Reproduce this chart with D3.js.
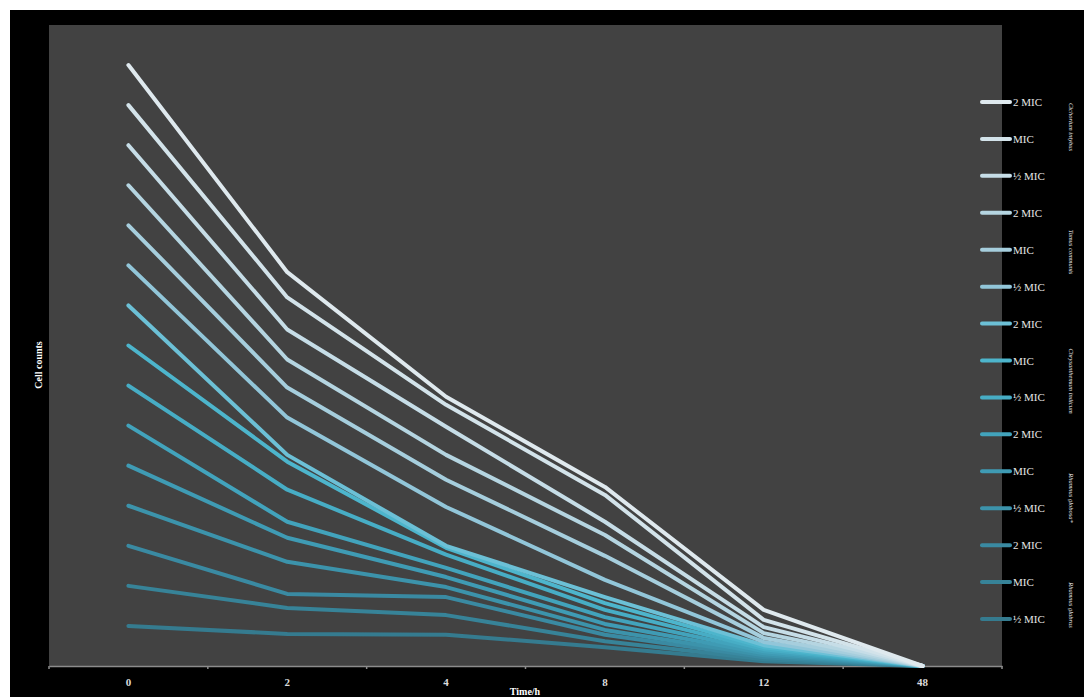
<!DOCTYPE html>
<html>
<head>
<meta charset="utf-8">
<script src="https://cdn.jsdelivr.net/npm/d3@7"></script>
<style>
html,body{margin:0;padding:0;background:#fff;}
svg{display:block;}
</style>
</head>
<body>
<svg id="chart" width="1084" height="697"></svg>
<script>
// ---- data ----
const categories = ["0", "2", "4", "8", "12", "48"];
const seriesNames = ["2 MIC","MIC","½ MIC","2 MIC","MIC","½ MIC","2 MIC","MIC","½ MIC","2 MIC","MIC","½ MIC","2 MIC","MIC","½ MIC"];
const groupLabels = ["Cichorium intybus","Tamus communis","Chrysanthemum indicum","Rhamnus globosa*","Rhamnus glabrus"];
const s01 = [15, 9.83, 6.72, 4.47, 1.40, 0];
const s02 = [14, 9.20, 6.52, 4.27, 1.15, 0];
const s03 = [13, 8.40, 5.97, 3.60, 0.97, 0];
const s04 = [12, 7.65, 5.27, 3.27, 0.82, 0];
const s05 = [11, 6.95, 4.65, 2.75, 0.70, 0];
const s06 = [10, 6.20, 3.97, 2.15, 0.60, 0];
const s07 = [9, 5.27, 3.00, 1.72, 0.52, 0];
const s08 = [8, 5.10, 2.95, 1.57, 0.47, 0];
const s09 = [7, 4.40, 2.78, 1.40, 0.42, 0];
const s10 = [6, 3.60, 2.45, 1.22, 0.37, 0];
const s11 = [5, 3.20, 2.22, 1.05, 0.32, 0];
const s12 = [4, 2.60, 1.97, 0.90, 0.27, 0];
const s13 = [3, 1.80, 1.72, 0.78, 0.22, 0];
const s14 = [2, 1.45, 1.27, 0.62, 0.17, 0];
const s15 = [1, 0.80, 0.78, 0.47, 0.12, 0];
const seriesValues = [s01,s02,s03,s04,s05,s06,s07,s08,s09,s10,s11,s12,s13,s14,s15];
const colors = ["#dfe9ee","#d3e3ea","#c6dde7","#b5d5e1","#a6cedd","#92c6d9","#6cc0d6","#4db5cc","#47adc5","#42a3bc","#3f9bb4","#3c93ab","#3a8aa2","#378398","#357b8f"];

// ---- layout ----
const svg = d3.select("#chart");
const plot = {left: 49, right: 1002, top: 25, bottom: 666};

svg.append("rect").attr("x",0).attr("y",0).attr("width",1084).attr("height",697).attr("fill","#ffffff");
svg.append("rect").attr("x",10).attr("y",10).attr("width",1074).attr("height",687).attr("fill","#000000");
svg.append("rect").attr("x",plot.left).attr("y",plot.top)
  .attr("width",plot.right-plot.left).attr("height",plot.bottom-plot.top).attr("fill","#424242");

const x = d3.scalePoint().domain(categories).range([plot.left, plot.right]).padding(0.5);
const y = d3.scaleLinear().domain([0, 16]).range([plot.bottom, plot.top]);

// x axis
const xAxis = d3.axisBottom(d3.scaleBand().domain(categories).range([plot.left, plot.right]))
  .tickSize(0).tickPadding(12);
const gx = svg.append("g").attr("transform",`translate(0,${plot.bottom})`).call(xAxis);
gx.select(".domain").attr("stroke","#8c8c8c").attr("stroke-width",1.6);
gx.selectAll(".tick text").attr("fill","#dcdcdc")
  .style("font-family","'Liberation Serif', serif").style("font-weight","bold").style("font-size","11px");
// boundary tick marks
const step = (plot.right-plot.left)/categories.length;
const bounds = d3.range(categories.length+1).map(i => plot.left + i*step);
svg.append("g").selectAll("line").data(bounds).join("line")
  .attr("x1",d=>d).attr("x2",d=>d).attr("y1",plot.bottom).attr("y2",plot.bottom+3)
  .attr("stroke","#8c8c8c").attr("stroke-width",1.5);

// lines
const line = d3.line().x((d,i)=>x(categories[i])).y(d=>y(d));
const order = d3.range(seriesValues.length).reverse();
svg.append("g").selectAll("path").data(order).join("path")
  .attr("d", i => line(seriesValues[i]))
  .attr("fill","none")
  .attr("stroke", i => colors[i])
  .attr("stroke-width",4)
  .attr("stroke-linecap","round")
  .attr("stroke-linejoin","round");

// axis titles
svg.append("text").attr("x",525).attr("y",695).attr("text-anchor","middle")
  .attr("fill","#ffffff").style("font-family","'Liberation Serif', serif")
  .style("font-weight","bold").style("font-size","10px").text("Time/h");
svg.append("text").attr("transform","translate(42,365) rotate(-90)").attr("text-anchor","middle")
  .attr("fill","#ffffff").style("font-family","'Liberation Serif', serif")
  .style("font-weight","bold").style("font-size","10px").text("Cell counts");

// legend
const legY = d3.scaleLinear().domain([0, 14]).range([102, 619]);
const leg = svg.append("g");
seriesNames.forEach((name,i) => {
  leg.append("line").attr("x1",982).attr("x2",1010).attr("y1",legY(i)).attr("y2",legY(i))
    .attr("stroke",colors[i]).attr("stroke-width",4).attr("stroke-linecap","round");
  leg.append("text").attr("x",1013).attr("y",legY(i)+4).attr("fill","#e6e6e6")
    .style("font-family","'Liberation Serif', serif").style("font-size","11px").text(name);
});
const groupY = [127, 252, 381, 498, 605];
groupLabels.forEach((g,i) => {
  leg.append("text").attr("transform",`translate(1069,${groupY[i]}) rotate(90)`)
    .attr("text-anchor","middle").attr("fill","#e6e6e6")
    .style("font-family","'Liberation Serif', serif").style("font-style","italic")
    .style("font-size","6.5px").text(g);
});
</script>
</body>
</html>
